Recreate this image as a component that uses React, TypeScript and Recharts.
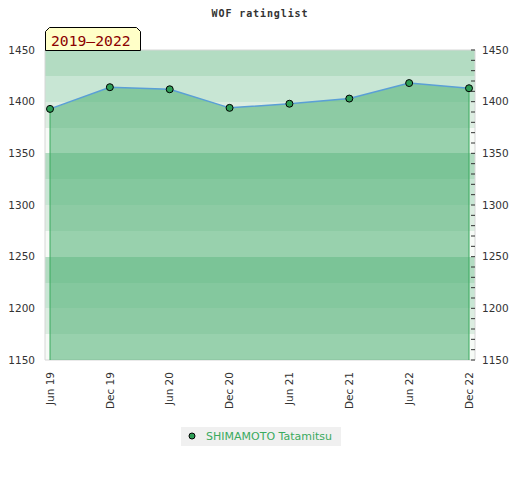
import React from "react";
import {
  ComposedChart,
  Area,
  Line,
  XAxis,
  YAxis,
  CartesianGrid,
  ReferenceLine,
} from "recharts";

const TITLE = "WOF ratinglist";
const PERIOD_LABEL = "2019–2022";
const SERIES_NAME = "SHIMAMOTO Tatamitsu";

const categories = ["Jun 19", "Dec 19", "Jun 20", "Dec 20", "Jun 21", "Dec 21", "Jun 22", "Dec 22"];
const ratings = [1393, 1414, 1412, 1394, 1398, 1403, 1418, 1413];

const yMajorTicks = [1150, 1200, 1250, 1300, 1350, 1400, 1450];
const yAllTicks = [
  1150, 1160, 1170, 1180, 1190, 1200, 1210, 1220, 1230, 1240, 1250, 1260, 1270, 1280, 1290, 1300,
  1310, 1320, 1330, 1340, 1350, 1360, 1370, 1380, 1390, 1400, 1410, 1420, 1430, 1440, 1450,
];
const Y_MIN = 1150;
const Y_MAX = 1450;

// background band boundaries (every 25), colours cycle from the top
const bandTops = [1450, 1425, 1400, 1375, 1350, 1325, 1300, 1275, 1250, 1225, 1200, 1175];
const bandColors = ["#b3dcc2", "#c8e6d4", "#dcede1", "#f6faf6"];

const data = categories.map((label, i) => ({ label, rating: ratings[i] }));

const FONT = "'DejaVu Sans', sans-serif";
const MONO = "'DejaVu Sans Mono', monospace";

const XTick = (props: any) => {
  const { x, y, payload } = props;
  return (
    <text
      x={x}
      y={y}
      dy="0.35em"
      transform={`rotate(-90 ${x} ${y})`}
      textAnchor="end"
      fill="#333"
      fontSize={10.5}
      fontFamily={FONT}
    >
      {payload.value}
    </text>
  );
};

const RightTick = (props: any) => {
  const { x, y, payload } = props;
  if (!yMajorTicks.includes(payload.value)) return <g />;
  return (
    <text x={x - 1} y={y} dy="0.355em" textAnchor="start" fill="#333" fontSize={10.5} fontFamily={FONT}>
      {payload.value}
    </text>
  );
};

export default function App() {
  const lastIdx = categories.length - 1;
  return (
    <div style={{ position: "absolute", left: 0, top: 0, width: 520, height: 480, background: "#fff" }}>
      <ComposedChart
        width={520}
        height={480}
        data={data}
        margin={{ top: 50, right: 0, bottom: 60, left: 0 }}
      >
        <YAxis
          yAxisId="bands"
          width={0}
          domain={[Y_MIN, Y_MAX]}
          ticks={bandTops}
          interval={0}
          allowDataOverflow
          hide
        />
        <CartesianGrid
          yAxisId="bands"
          vertical={false}
          stroke="none"
          horizontalFill={bandColors}
          fillOpacity={1}
        />
        <CartesianGrid
          stroke="#d6d6d6"
          horizontalCoordinatesGenerator={({ offset }: any) => [offset.top, offset.top + offset.height]}
          verticalCoordinatesGenerator={({ offset }: any) => [offset.left, offset.left + offset.width]}
        />
        <XAxis
          dataKey="label"
          interval={0}
          padding={{ left: 5, right: 6 }}
          axisLine={false}
          tickLine={false}
          tickMargin={6}
          height={60}
          tick={<XTick />}
        />
        <YAxis
          yAxisId="left"
          orientation="left"
          width={45}
          domain={[Y_MIN, Y_MAX]}
          ticks={yMajorTicks}
          axisLine={false}
          tickLine={false}
          tickMargin={4}
          tick={{ fill: "#333", fontSize: 10.5, fontFamily: FONT }}
          allowDataOverflow
        />
        <Area
          yAxisId="left"
          type="linear"
          dataKey="rating"
          baseValue={Y_MIN}
          fill="#51b275"
          fillOpacity={0.57}
          stroke="none"
          isAnimationActive={false}
          dot={false}
          activeDot={false}
        />
        <ReferenceLine
          yAxisId="left"
          segment={[
            { x: categories[0], y: Y_MIN },
            { x: categories[0], y: ratings[0] },
          ]}
          stroke="#3aaa5e"
          strokeWidth={1}
          ifOverflow="visible"
        />
        <ReferenceLine
          yAxisId="left"
          segment={[
            { x: categories[lastIdx], y: Y_MIN },
            { x: categories[lastIdx], y: ratings[lastIdx] },
          ]}
          stroke="#3aaa5e"
          strokeWidth={1}
          ifOverflow="visible"
        />
        <Line
          yAxisId="left"
          type="linear"
          dataKey="rating"
          name={SERIES_NAME}
          stroke="#5a9fd6"
          strokeWidth={1.5}
          dot={{ r: 3.5, fill: "#2e9e56", stroke: "#000", strokeWidth: 1 }}
          activeDot={false}
          isAnimationActive={false}
        />
        <YAxis
          yAxisId="right"
          orientation="right"
          width={45}
          domain={[Y_MIN, Y_MAX]}
          ticks={yAllTicks}
          interval={0}
          axisLine={false}
          tickSize={-4}
          tickMargin={12}
          tickLine={{ stroke: "#333", strokeWidth: 1 }}
          tick={<RightTick />}
          allowDataOverflow
        />
      </ComposedChart>

      <svg
        width={520}
        height={52}
        style={{ position: "absolute", left: 0, top: 0, pointerEvents: "none" }}
      >
        <text
          x={260}
          y={17}
          textAnchor="middle"
          fill="#333"
          fontSize={10}
          fontWeight="bold"
          letterSpacing={0.9}
          fontFamily={MONO}
        >
          {TITLE}
        </text>
        <polygon
          points="45.5,50.5 45.5,31.5 49.5,27.5 136.5,27.5 140.5,31.5 140.5,50.5"
          fill="#ffffc8"
          stroke="#000"
          strokeWidth={1}
        />
        <text x={51} y={46} fill="#8b0000" fontSize={14.7} fontFamily={MONO}>
          {PERIOD_LABEL}
        </text>
      </svg>

      <div
        style={{
          position: "absolute",
          left: 181,
          top: 427,
          width: 160,
          height: 19,
          background: "#f0f0f0",
          display: "flex",
          alignItems: "center",
          fontFamily: FONT,
          fontSize: 11,
          color: "#3aaa5e",
          whiteSpace: "nowrap",
        }}
      >
        <svg width={20} height={19} style={{ flex: "none" }}>
          <circle cx={11} cy={9} r={3} fill="#2e9e56" stroke="#000" strokeWidth={1} />
        </svg>
        <span style={{ marginLeft: 5 }}>{SERIES_NAME}</span>
      </div>
    </div>
  );
}
